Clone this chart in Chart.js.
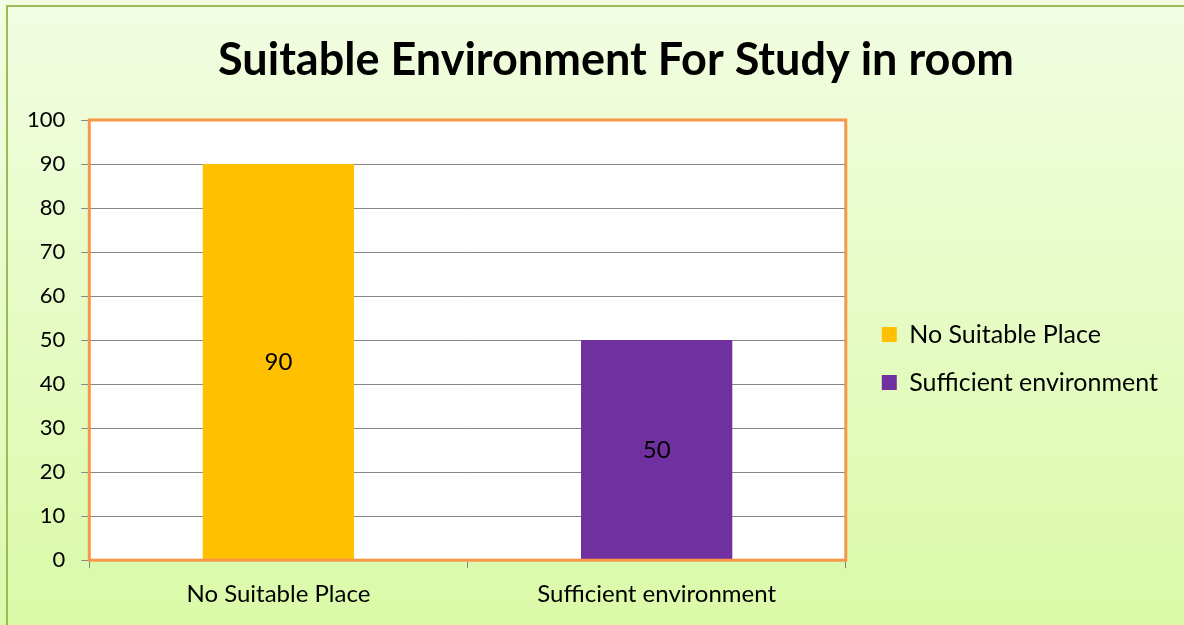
<!DOCTYPE html>
<html>
<head>
<meta charset="utf-8">
<script src="https://cdn.jsdelivr.net/npm/chart.js@4.4.1/dist/chart.umd.min.js"></script>
<style>
  html, body { margin: 0; padding: 0; background: #fff; }
  #wrap { width: 1184px; height: 625px; }
</style>
</head>
<body>
<div id="wrap"><canvas id="myChart"></canvas></div>
<script>
const categories = ['No Suitable Place', 'Sufficient environment'];
const values = [90, 50];
const barColors = ['#FFC000', '#7030A0'];
const chartTitle = 'Suitable Environment For Study in room';

const FONT = 'Lato';

// green gradient backdrop with the frame lines on top and left
const backdrop = {
    id: 'backdrop',
    beforeDraw(chart) {
        const { ctx, width, height } = chart;
        const g = ctx.createLinearGradient(0, 0, 0, height);
        g.addColorStop(0, '#F2FDE2');
        g.addColorStop(1, '#DAFAA8');
        ctx.save();
        ctx.fillStyle = g;
        ctx.fillRect(0, 0, width, height);
        ctx.strokeStyle = '#9BBB59';
        ctx.lineWidth = 2;
        ctx.beginPath();
        ctx.moveTo(7, height);
        ctx.lineTo(7, 6);
        ctx.lineTo(width, 6);
        ctx.stroke();
        // white plot area
        const a = chart.chartArea;
        ctx.fillStyle = '#fff';
        ctx.fillRect(a.left, a.top, a.right - a.left, a.bottom - a.top);
        ctx.restore();
    }
};

// orange plot frame + values in the middle of each bar + title
const extras = {
    id: 'extras',
    afterDatasetsDraw(chart) {
        const { ctx } = chart;
        const a = chart.chartArea;
        ctx.save();
        ctx.strokeStyle = '#F79646';
        ctx.lineWidth = 3;
        ctx.strokeRect(a.left, a.top, a.right - a.left, a.bottom - a.top);

        ctx.fillStyle = '#000';
        ctx.font = '24px ' + FONT;
        ctx.textAlign = 'center';
        ctx.textBaseline = 'middle';
        chart.getDatasetMeta(0).data.forEach((bar, i) => {
            ctx.fillText(String(values[i]), bar.x, (bar.y + bar.base) / 2);
        });

        ctx.font = 'bold 45px ' + FONT;
        ctx.fillText(chartTitle, 616, 60);
        ctx.restore();
    }
};

const ctx = document.getElementById('myChart').getContext('2d');
const myChart = new Chart(ctx, {
    type: 'bar',
    data: {
        labels: categories,
        datasets: [{
            data: values,
            backgroundColor: barColors,
            borderWidth: 0,
            barPercentage: 0.4,
            categoryPercentage: 1.0
        }]
    },
    options: {
        responsive: true,
        maintainAspectRatio: false,
        animation: false,
        layout: { padding: { top: 120, left: 11, right: 16, bottom: 4 } },
        plugins: {
            title: { display: false },
            tooltip: { enabled: false },
            legend: {
                position: 'right',
                fullSize: false,
                maxWidth: 400,
                // blank title only nudges the entries down a little
                title: { display: true, text: ' ', color: '#000', font: { size: 10 }, padding: 12.5 },
                labels: {
                    color: '#000',
                    font: { family: FONT, size: 25 },
                    boxWidth: 15,
                    boxHeight: 15,
                    padding: 23,
                    generateLabels: () => categories.map((c, i) => ({
                        text: c,
                        fillStyle: barColors[i],
                        strokeStyle: barColors[i],
                        fontColor: '#000',
                        lineWidth: 0,
                        index: i
                    }))
                }
            }
        },
        scales: {
            x: {
                grid: { drawOnChartArea: false, drawTicks: true, tickLength: 8, color: '#868686' },
                border: { color: '#868686' },
                ticks: { color: '#000', font: { family: FONT, size: 24 }, padding: 12 }
            },
            y: {
                min: 0,
                max: 100,
                grid: { color: '#868686', tickLength: 8 },
                border: { color: '#868686' },
                ticks: { stepSize: 10, color: '#000', font: { family: FONT, size: 22 }, padding: 16 }
            },
            // empty spacer between plot and legend
            gap: {
                type: 'linear',
                position: 'right',
                display: true,
                grid: { display: false },
                border: { display: false },
                ticks: { display: false },
                afterFit: (s) => { s.width = 13; }
            }
        }
    },
    plugins: [backdrop, extras]
});
</script>
</body>
</html>
